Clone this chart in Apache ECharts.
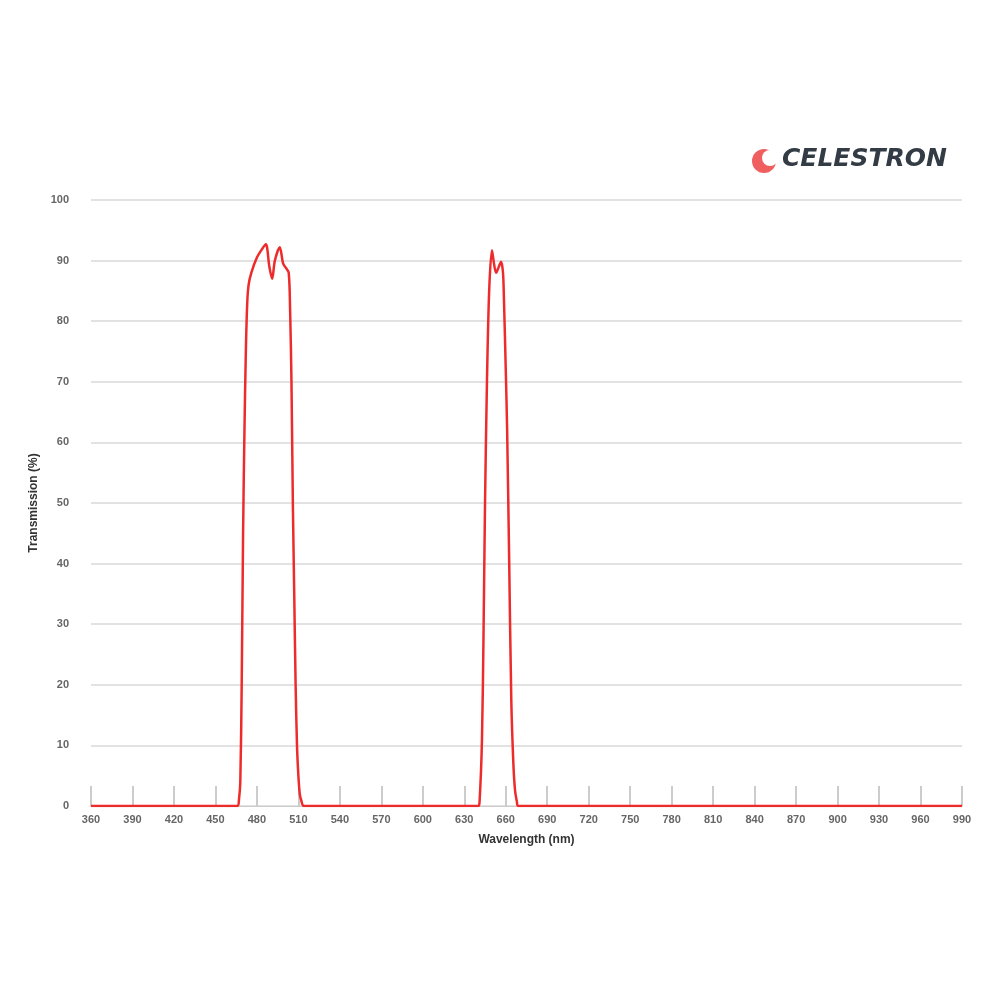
<!DOCTYPE html>
<html><head><meta charset="utf-8">
<script src="https://cdn.jsdelivr.net/npm/echarts@6/dist/echarts.min.js"></script>
<style>html,body{margin:0;background:#fff}#c{width:1000px;height:1000px}</style>
</head><body><div id="c"></div>
<script>
const wavelengths = [360,466,467,468,469,470,471,472,473,474,476,480,484,486.5,489,491,493,496.5,499,501,503,504,505,506,507,508,509,510,511,512,514,
  640,641,642.8,644,645,646.4,648,650,651.5,653,655,656.6,658,658.7,660,661,662.5,664,665.5,666.7,668,669,990];
const transmission = [0,0,1,4,20,45,62,75,83,86,88,90.5,92,92.7,89,87,90,92.2,89.5,88.8,88,82,70,50,35,20,10,5,2,1,0,
  0,0.5,11,30,50,70,85,91.7,89.5,88,89,89.8,88,83.5,72,62,40,17.5,7,2.6,0.8,0,0];
const xTicks = [360,390,420,450,480,510,540,570,600,630,660,690,720,750,780,810,840,870,900,930,960,990];
const data = wavelengths.map((w,i)=>[w,transmission[i]]);
const chart = echarts.init(document.getElementById('c'));
chart.setOption({
  animation:false,
  graphic:[
    {type:'circle',shape:{cx:764,cy:161,r:12},style:{fill:'#ef5f5f'}},
    {type:'circle',shape:{cx:770,cy:158,r:8},style:{fill:'#fff'}},
    {type:'text',left:782,top:147,style:{text:'CELESTRON',font:'italic bold 25px "DejaVu Sans"',fill:'#333b44'}}
  ],
  grid:{left:91,right:38,top:200,bottom:194},
  xAxis:{type:'value',min:360,max:990,interval:30,
    name:'Wavelength (nm)',nameLocation:'middle',nameGap:28,
    nameTextStyle:{color:'#333',fontSize:12,fontWeight:'bold',fontFamily:'Liberation Sans'},
    axisLine:{show:true,lineStyle:{color:'#ccc'}},
    axisTick:{show:true,inside:true,length:20,lineStyle:{color:'#ccc',width:2}},
    axisLabel:{color:'#666',fontSize:11,fontWeight:'bold',fontFamily:'Liberation Sans',margin:8},
    splitLine:{show:false}},
  yAxis:{type:'value',min:0,max:100,interval:10,
    name:'Transmission (%)',nameLocation:'middle',nameGap:50,
    nameTextStyle:{color:'#333',fontSize:12,fontWeight:'bold',fontFamily:'Liberation Sans'},
    axisLine:{show:false},axisTick:{show:false},
    axisLabel:{color:'#666',fontSize:11,fontWeight:'bold',fontFamily:'Liberation Sans',margin:22,align:'right'},
    splitLine:{lineStyle:{color:'#d8d8d8',width:1.5}}},
  series:[{type:'line',data:data,smooth:0.3,symbol:'none',
    lineStyle:{color:'#ee2b2b',width:2.5}}]
});
</script></body></html>
